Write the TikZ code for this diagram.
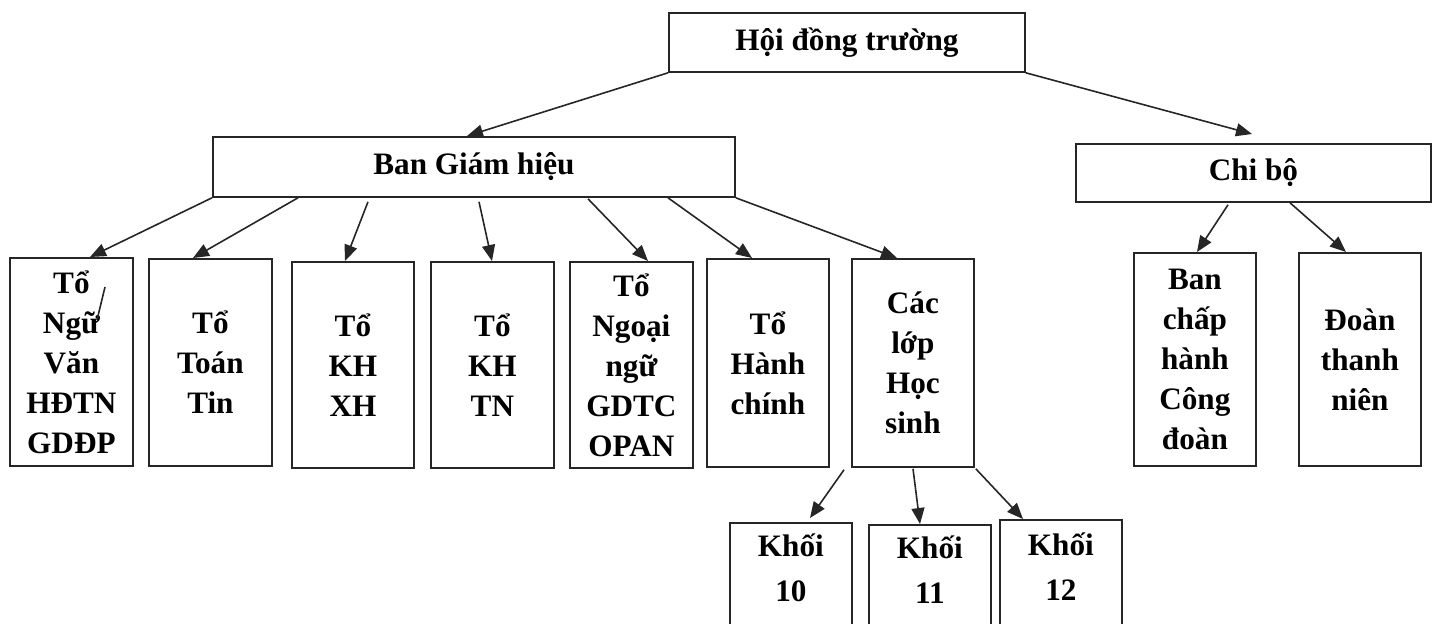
\documentclass[tikz,border=0pt]{standalone}
\usepackage{fontspec}
\setmainfont{Liberation Serif}
\usetikzlibrary{arrows.meta,calc}
\begin{document}
\begin{tikzpicture}[x=0.5pt,y=-0.5pt,
 lbl/.style={align=center, font=\fontsize{15.6}{20}\selectfont\bfseries, inner sep=0pt},
 box/.style={lbl, draw=black!85, line width=0.9pt, anchor=north west},
 sz/.style 2 args={minimum width=#1*0.5pt, minimum height=#2*0.5pt},
 arr/.style={draw=black!85, line width=0.8pt, -{Triangle[length=8pt,width=6.5pt]}},
 stray/.style={draw=black!85, line width=0.8pt},
]
\useasboundingbox (0,0) rectangle (1437,623);
\begin{scope}
\clip (0,0) rectangle (1437,623);
% top level
\node[box, sz={356}{59}] (hdt) at (668,12) {Hội đồng trường};
\node[box, sz={522}{60}] (bgh) at (212,136) {Ban Giám hiệu};
\node[box, sz={355}{58}] (cb) at (1075,143) {Chi bộ};
% departments
\node[box, sz={123}{208}] (nv) at (9,257) {Tổ\\Ngữ\\Văn\\HĐTN\\GDĐP};
\node[box, sz={123}{207}] (tt) at (148,258) {Tổ\\Toán\\Tin};
\node[box, sz={122}{206}] (kx) at (291,261) {Tổ\\KH\\XH};
\node[box, sz={123}{206}] (kt) at (430,261) {Tổ\\KH\\TN};
\node[box, sz={123}{206}] (nn) at (569,261) {Tổ\\Ngoại\\ngữ\\GDTC\\OPAN};
\node[box, sz={122}{208}] (hc) at (706,258) {Tổ\\Hành\\chính};
\node[box, sz={122}{208}] (cl) at (851,258) {Các\\lớp\\Học\\sinh};
\node[box, sz={122}{213}] (bch) at (1133,252) {Ban\\chấp\\hành\\Công\\đoàn};
\node[box, sz={122}{213}] (dtn) at (1298,252) {Đoàn\\thanh\\niên};
% grades (boxes run past the bottom edge)
\node[box, sz={122}{180}] (k10) at (729,522) {};
\node[box, sz={122}{180}] (k11) at (868,524) {};
\node[box, sz={122}{180}] (k12) at (999,519) {};
\node[lbl] (k10t) at ($(k10.north)+(0,46)$) {Khối\\[2.5pt]10};
\node[lbl] (k11t) at ($(k11.north)+(0,46)$) {Khối\\[2.5pt]11};
\node[lbl] (k12t) at ($(k12.north)+(0,48)$) {Khối\\[2.5pt]12};
% connectors
\draw[arr] (hdt.south west) -- ($(bgh.north west)+(255,0)$);
\draw[arr] (hdt.south east) -- ($(cb.north west)+(177,-9)$);
\draw[arr] (bgh.south west) -- ($(nv.north west)+(81,0)$);
\draw[arr] ($(bgh.south west)+(86,0)$) -- ($(tt.north west)+(45,0)$);
\draw[arr] ($(bgh.south west)+(156,4)$) -- ($(kx.north west)+(54,0)$);
\draw[arr] ($(bgh.south west)+(267,4)$) -- ($(kt.north west)+(62,0)$);
\draw[arr] ($(bgh.south west)+(376,1)$) -- ($(nn.north west)+(79,0)$);
\draw[arr] ($(bgh.south west)+(456,0)$) -- ($(hc.north west)+(46,0)$);
\draw[arr] (bgh.south east) -- ($(cl.north west)+(46,0)$);
\draw[arr] ($(cb.south west)+(153,2)$) -- ($(bch.north west)+(64,0)$);
\draw[arr] ($(cb.south west)+(215,0)$) -- ($(dtn.north west)+(48,0)$);
\draw[arr] ($(cl.south west)+(-7,2)$) -- ($(k10.north west)+(81,-4)$);
\draw[arr] ($(cl.south west)+(62,1)$) -- ($(k11.north west)+(52,0)$);
\draw[arr] ($(cl.south east)+(1,1)$) -- ($(k12.north west)+(24,0)$);
% stray stroke inside the first box
\draw[stray] ($(nv.north west)+(96,30)$) -- ($(nv.north west)+(88,63)$);
\end{scope}
\end{tikzpicture}
\end{document}
